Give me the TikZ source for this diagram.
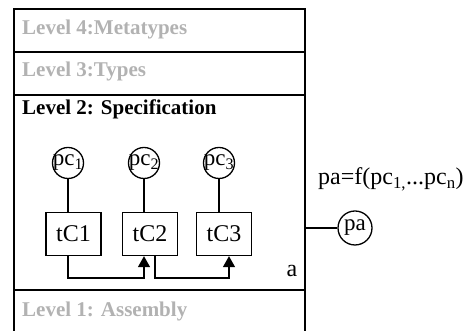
\documentclass[tikz,border=0pt]{standalone}
\usepackage{fontspec}
\setmainfont{Liberation Serif}
\usetikzlibrary{arrows.meta,positioning,calc}
\definecolor{lvlgray}{RGB}{178,178,178}

\begin{document}
\begin{tikzpicture}[x=1pt, y=1pt,
  >={Triangle[length=11pt,width=12pt]},
  frame/.style={line width=1.8pt, black},
  hd/.style={anchor=base west, inner sep=0pt,
             font=\fontsize{21}{25}\selectfont\bfseries},
  pcirc/.style={circle, draw, line width=1.3pt, minimum size=31pt,
                inner sep=0pt},
  pclab/.style={font=\fontsize{23}{27}\selectfont, inner sep=0pt},
  tbox/.style={rectangle, draw, line width=1.3pt, minimum width=55pt,
               minimum height=43pt, inner sep=0pt,
               font=\fontsize{24}{28}\selectfont},
  wire/.style={line width=1.3pt},
  arc/.style={->, line width=1.3pt},
  txt/.style={anchor=base west, inner sep=0pt,
              font=\fontsize{24}{28}\selectfont},
]
\useasboundingbox (0,0) rectangle (474,331);

\draw[frame] (14,0) -- (14,322) -- (305,322) -- (305,0);
\draw[frame] (14,279) -- (305,279);
\draw[frame] (14,236) -- (305,236);
\draw[frame] (14,41) -- (305,41);

\node[hd, lvlgray] (l4) at (22,296) {Level 4:Metatypes};
\node[hd, lvlgray] (l3) at (22,254) {Level 3:Types};
\node[hd] (l2) at (22,216) {Level 2: Specification};
\node[hd, lvlgray] (l1) at (22,14) {Level 1: Assembly};

\node[tbox] (tC1) at (73.5,97) {tC1};
\node[tbox] (tC2) at (150,97) {tC2};
\node[tbox] (tC3) at (224,97) {tC3};

\node[pcirc, label={[pclab]center:pc\textsubscript{1}}] (pc1) at (68,168) {};
\node[pcirc, label={[pclab]center:pc\textsubscript{2}}] (pc2) at (144,168) {};
\node[pcirc, label={[pclab]center:pc\textsubscript{3}}] (pc3) at (219,168) {};

\draw[wire] (pc1) -- (pc1 |- tC1.north);
\draw[wire] (pc2) -- (pc2 |- tC2.north);
\draw[wire] (pc3) -- (pc3 |- tC3.north);

\coordinate (bus) at (0,53);
\coordinate (o2) at ([xshift=5pt]tC2.south);
\coordinate (i3) at ([xshift=5pt]tC3.south);
\draw[arc] (pc1 |- tC1.south) -- (pc1 |- bus) -| (pc2 |- tC2.south);
\draw[arc] (o2) -- (o2 |- bus) -| (i3);

\node[txt, anchor=base] (alab) at (292,54) {a};

\node[txt] (form) at (318,146) {pa=f(pc\textsubscript{1,}...pc\textsubscript{n})};
\node[pcirc, minimum size=34pt, label={[pclab]center:pa}] (pa) at (355,103) {};
\coordinate (pin) at (305,103);
\draw[wire] (pin) -- (pa);
\end{tikzpicture}
\end{document}
